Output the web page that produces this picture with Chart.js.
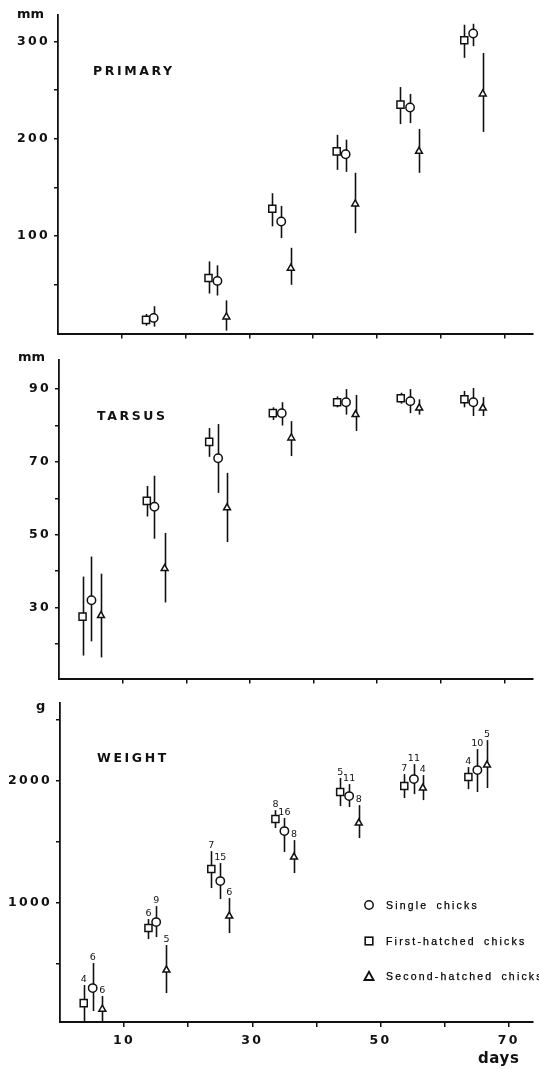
<!DOCTYPE html>
<html>
<head>
<meta charset="utf-8">
<script src="https://cdn.jsdelivr.net/npm/chart.js@4.4.1/dist/chart.umd.min.js"></script>
<style>
html,body{margin:0;padding:0;background:#fff;}
body{width:539px;height:1069px;position:relative;overflow:hidden;font-family:"DejaVu Sans",sans-serif;color:#111;}
.panel{position:absolute;left:0;width:539px;}
.lab{position:absolute;font-weight:bold;white-space:nowrap;line-height:1;color:#111;}
.ttl{font-size:12.5px;letter-spacing:2.6px;}
.unit{font-size:13px;}
.leg{position:absolute;left:362px;height:14px;display:flex;align-items:center;white-space:nowrap;}
.leg span.t{font-family:"Liberation Sans",Arial,sans-serif;font-size:10.5px;letter-spacing:2.2px;word-spacing:3px;margin-left:10px;color:#000;-webkit-text-stroke:0.25px #000;}
.mk{width:14px;height:14px;display:flex;align-items:center;justify-content:center;}
</style>
</head>
<body>
<div class="panel" style="top:0;height:345px"><canvas id="c1"></canvas></div>
<div class="panel" style="top:345px;height:345px"><canvas id="c2"></canvas></div>
<div class="panel" style="top:690px;height:379px"><canvas id="c3"></canvas></div>

<div class="lab unit" style="left:17px;top:7px">mm</div>
<div class="lab ttl" style="left:93px;top:65px">PRIMARY</div>
<div class="lab unit" style="left:18px;top:350px">mm</div>
<div class="lab ttl" style="left:97px;top:410px">TARSUS</div>
<div class="lab unit" style="left:36px;top:699px">g</div>
<div class="lab ttl" style="left:97px;top:752px">WEIGHT</div>
<div class="lab" style="left:478px;top:1051px;font-size:15px;letter-spacing:0.6px">days</div>

<div class="leg" style="top:898px">
  <div class="mk"><svg width="12" height="12"><circle cx="6" cy="6" r="4.2" fill="#fff" stroke="#111" stroke-width="1.5"/></svg></div>
  <span class="t">Single chicks</span>
</div>
<div class="leg" style="top:934px">
  <div class="mk"><svg width="12" height="12"><rect x="2.2" y="2.2" width="7.6" height="7.6" fill="#fff" stroke="#111" stroke-width="1.6"/></svg></div>
  <span class="t">First-hatched chicks</span>
</div>
<div class="leg" style="top:969px">
  <div class="mk"><svg width="12" height="12"><polygon points="6,1.8 10.5,10 1.5,10" fill="#fff" stroke="#111" stroke-width="1.8"/></svg></div>
  <span class="t">Second-hatched chicks</span>
</div>

<script>
// ---------- categories (days of measurement, per chick type) ----------
const sqDays = [3.7, 13.8, 23.6, 33.6, 43.7, 53.7, 63.7];   // first-hatched (squares)
const ciDays = [5.1, 15.0, 25.0, 35.0, 45.1, 55.2, 65.1];   // single (circles)
const trDays = [6.6, 16.6, 26.4, 36.5, 46.6, 56.6, 66.6];   // second-hatched (triangles)

// ---------- PRIMARY (mm) ----------
const primSqMean = [null, 14, 57, 128, 187, 235, 301];
const primSqLow  = [null, 8, 41, 110, 168, 215, 283];
const primSqHigh = [null, 20, 74, 144, 204, 253, 317];
const primCiMean = [null, 16, 54, 115, 184, 232, 308];
const primCiLow  = [null, 7, 39, 98, 166, 216, 295];
const primCiHigh = [null, 28, 70, 131, 199, 246, 318];
const primTrMean = [null, null, 17, 67, 133, 187, 246];
const primTrLow  = [null, null, 3, 50, 103, 165, 207];
const primTrHigh = [null, null, 34, 88, 165, 210, 288];
const primTicks  = [50, 100, 150, 200, 250, 300];
const primTickLabels = ['', '100', '', '200', '', '300'];

// ---------- TARSUS (mm) ----------
const tarSqMean = [27.5, 59.3, 75.5, 83.4, 86.4, 87.5, 87.2];
const tarSqLow  = [16.8, 55.0, 71.4, 81.5, 85.0, 86.0, 85.0];
const tarSqHigh = [38.5, 63.4, 79.3, 85.0, 88.0, 89.0, 89.5];
const tarCiMean = [32.0, 57.7, 71.0, 83.4, 86.4, 86.7, 86.4];
const tarCiLow  = [20.7, 48.9, 61.5, 80.0, 83.0, 83.4, 82.6];
const tarCiHigh = [44.0, 66.2, 80.4, 86.4, 90.0, 90.0, 90.3];
const tarTrMean = [27.8, 40.7, 57.4, 76.6, 83.0, 84.8, 84.8];
const tarTrLow  = [16.3, 31.4, 48.0, 71.6, 78.5, 83.0, 82.6];
const tarTrHigh = [39.3, 50.5, 67.0, 81.2, 88.4, 87.2, 87.8];
const tarTicks  = [20, 30, 40, 50, 60, 70, 80, 90];
const tarTickLabels = ['', '30', '', '50', '', '70', '', '90'];

// ---------- WEIGHT (g) ----------
const wSqMean = [180, 795, 1279, 1689, 1910, 1959, 2033];
const wSqLow  = [25, 705, 1123, 1615, 1795, 1861, 1934];
const wSqHigh = [328, 869, 1426, 1762, 2025, 2057, 2115];
const wCiMean = [303, 844, 1180, 1590, 1877, 2016, 2090];
const wCiLow  = [115, 721, 1033, 1418, 1787, 1893, 1910];
const wCiHigh = [508, 975, 1328, 1697, 1975, 2139, 2262];
const wTrMean = [130, 451, 893, 1377, 1656, 1943, 2131];
const wTrLow  = [25, 262, 754, 1246, 1533, 1844, 1943];
const wTrHigh = [238, 656, 1041, 1516, 1803, 2049, 2336];
const wSqN = [4, 6, 7, 8, 5, 7, 4];
const wCiN = [6, 9, 15, 16, 11, 11, 10];
const wTrN = [6, 5, 6, 8, 8, 4, 5];
const wTicks = [500, 1000, 1500, 2000, 2500];
const wTickLabels = ['', '1000', '', '2000', ''];

// ---------- x axis (days) ----------
const dayTicks = [10, 20, 30, 40, 50, 60, 70];
const dayTickLabels = ['10', '', '30', '', '50', '', '70'];

const INK = '#111';

function pts(days, mean, lo, hi, n) {
  const out = [];
  mean.forEach((v, i) => {
    if (v === null) return;
    out.push({ x: days[i], y: v, lo: lo[i], hi: hi[i], n: n ? n[i] : null });
  });
  return out;
}

function ds(data, style, r) {
  return {
    data, pointStyle: style, pointRadius: r, pointHoverRadius: r,
    pointBackgroundColor: '#fff', pointBorderColor: INK, pointBorderWidth: 1.5,
    showLine: false
  };
}

const errPlugin = {
  id: 'errbars',
  beforeDraw(chart) { chart.ctx.letterSpacing = '2.3px'; },
  beforeDatasetsDraw(chart) {
    const { ctx, scales: { x, y } } = chart;
    ctx.save();
    ctx.strokeStyle = INK; ctx.lineWidth = 1.6;
    chart.data.datasets.forEach(d => d.data.forEach(p => {
      const px = Math.round(x.getPixelForValue(p.x)) + 0.5;
      ctx.beginPath();
      ctx.moveTo(px, y.getPixelForValue(p.lo));
      ctx.lineTo(px, y.getPixelForValue(p.hi));
      ctx.stroke();
    }));
    ctx.restore();
  },
  afterDatasetsDraw(chart) {
    const { ctx, scales: { x, y } } = chart;
    ctx.save();
    ctx.letterSpacing = '0px';
    ctx.fillStyle = INK;
    ctx.font = '9.5px "DejaVu Sans"';
    ctx.textAlign = 'center';
    ctx.textBaseline = 'alphabetic';
    chart.data.datasets.forEach(d => d.data.forEach(p => {
      if (p.n == null) return;
      ctx.fillText(String(p.n), x.getPixelForValue(p.x), y.getPixelForValue(p.hi) - 3);
    }));
    ctx.restore();
  }
};

function makeChart(id, datasets, yMin, yMax, yTicks, yLabels, yWidth, padTop, xHeight, xMax, showXLabels) {
  return new Chart(document.getElementById(id), {
    type: 'scatter',
    data: { datasets },
    plugins: [errPlugin],
    options: {
      responsive: true, maintainAspectRatio: false, animation: false,
      layout: { padding: { top: padTop, left: 0, right: 0, bottom: 0 } },
      plugins: { legend: { display: false }, tooltip: { enabled: false } },
      events: [],
      scales: {
        x: {
          type: 'linear', min: 0, max: xMax, bounds: 'data',
          afterBuildTicks: s => { s.ticks = dayTicks.map(v => ({ value: v })); },
          afterFit: s => { s.height = xHeight; },
          ticks: {
            callback: (v, i) => showXLabels ? dayTickLabels[i] : '',
            font: { family: 'DejaVu Sans', weight: 'bold', size: 12.5 },
            color: INK, padding: 6, maxRotation: 0, autoSkip: false
          },
          grid: { drawOnChartArea: false, drawTicks: true, tickLength: 5, color: INK, lineWidth: 1.5 },
          border: { display: true, color: INK, width: 2 }
        },
        y: {
          type: 'linear', min: yMin, max: yMax, bounds: 'data',
          afterBuildTicks: s => { s.ticks = yTicks.map(v => ({ value: v })); },
          afterFit: s => { s.width = yWidth; },
          ticks: {
            callback: (v, i) => yLabels[i],
            font: { family: 'DejaVu Sans', weight: 'bold', size: 12.5 },
            color: INK, padding: 4, autoSkip: false
          },
          grid: { drawOnChartArea: false, drawTicks: true, tickLength: 4, color: INK, lineWidth: 1.5 },
          border: { display: true, color: INK, width: 1.8 }
        }
      }
    }
  });
}

makeChart('c1', [
  ds(pts(sqDays, primSqMean, primSqLow, primSqHigh), 'rect', 5),
  ds(pts(ciDays, primCiMean, primCiLow, primCiHigh), 'circle', 4.2),
  ds(pts(trDays, primTrMean, primTrLow, primTrHigh), 'triangle', 4)
], 0, 327, primTicks, primTickLabels, 58, 15, 10, 74.4, false);

makeChart('c2', [
  ds(pts(sqDays, tarSqMean, tarSqLow, tarSqHigh), 'rect', 5),
  ds(pts(ciDays, tarCiMean, tarCiLow, tarCiHigh), 'circle', 4.2),
  ds(pts(trDays, tarTrMean, tarTrLow, tarTrHigh), 'triangle', 4)
], 10.5, 98, tarTicks, tarTickLabels, 59, 15, 11, 74.4, false);

makeChart('c3', [
  ds(pts(sqDays, wSqMean, wSqLow, wSqHigh, wSqN), 'rect', 5),
  ds(pts(ciDays, wCiMean, wCiLow, wCiHigh, wCiN), 'circle', 4.2),
  ds(pts(trDays, wTrMean, wTrLow, wTrHigh, wTrN), 'triangle', 4)
], 25, 2640, wTicks, wTickLabels, 60, 13, 47, 73.7, true);
</script>
</body>
</html>
